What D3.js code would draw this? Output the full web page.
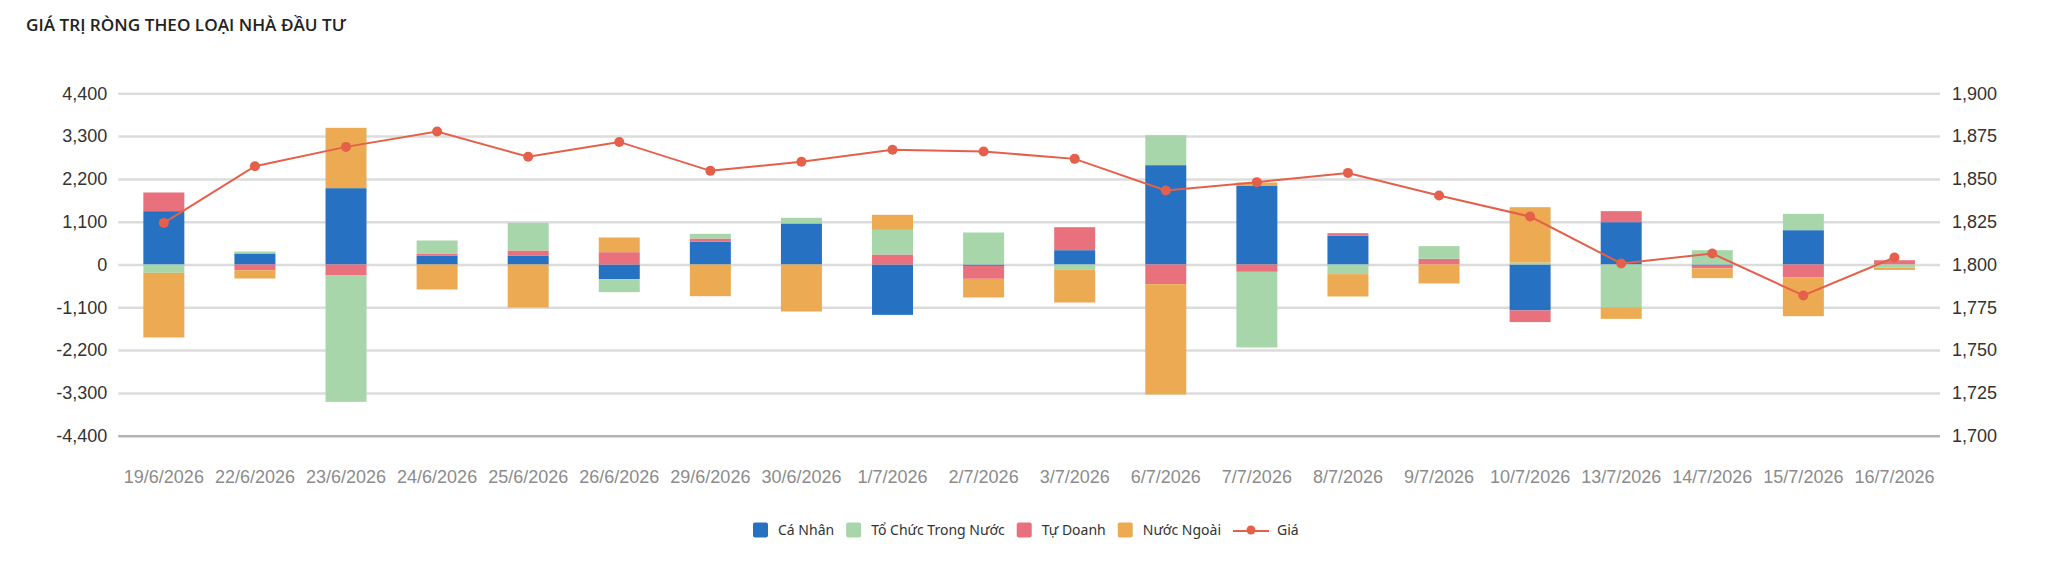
<!DOCTYPE html>
<html>
<head>
<meta charset="utf-8">
<script src="https://cdn.jsdelivr.net/npm/d3@7"></script>
<style>
  html, body { margin: 0; padding: 0; background: #ffffff; }
  svg { display: block; }
</style>
</head>
<body>
<script>
// ---- Data ----
const dates = ["19/6/2026","22/6/2026","23/6/2026","24/6/2026","25/6/2026","26/6/2026","29/6/2026","30/6/2026","1/7/2026","2/7/2026","3/7/2026","6/7/2026","7/7/2026","8/7/2026","9/7/2026","10/7/2026","13/7/2026","14/7/2026","15/7/2026","16/7/2026"];
const caNhan   = [1371, 283, 1962, 223, 223, -377, 583, 1054, -1294, -34, 368, 2553, 2030, 745, 0, -1180, 1088, -30, 882, 0];
const toChuc   = [-214, 51, -3247, 334, 711, -334, 120, 146, 634, 822, -137, 771, -1945, -248, 326, 50, -1097, 368, 420, -80];
const tuDoanh  = [480, -146, -283, 60, 137, 317, 86, 0, 257, -334, 591, -505, -188, 60, 146, -300, 283, -70, -326, 110];
const nuocNgoai= [-1662, -214, 1551, -643, -1105, 377, -814, -1208, 386, -480, -840, -2836, 77, -574, -488, 1422, -300, -250, -1002, -60];
const gia      = [1824.3, 1857.4, 1868.7, 1877.7, 1862.9, 1871.6, 1854.7, 1860.0, 1867.0, 1866.0, 1861.7, 1843.2, 1848.1, 1853.5, 1840.3, 1828.0, 1800.6, 1806.4, 1781.9, 1804.1];
const leftTicks  = [-4400, -3300, -2200, -1100, 0, 1100, 2200, 3300, 4400];
const rightTicks = [1700, 1725, 1750, 1775, 1800, 1825, 1850, 1875, 1900];
const seriesNames = ["Cá Nhân", "Tổ Chức Trong Nước", "Tự Doanh", "Nước Ngoài"];
const lineName = "Giá";
const title = "GIÁ TRỊ RÒNG THEO LOẠI NHÀ ĐẦU TƯ";

// ---- Styles ----
const colors = {
  "Cá Nhân": "#2671C2",
  "Tổ Chức Trong Nước": "#A8D6AB",
  "Tự Doanh": "#E8717D",
  "Nước Ngoài": "#ECAB53"
};
const lineColor = "#E5604A";
const W = 2048, H = 565;
const plot = { left: 118.3, right: 1940, top: 93.3, bottom: 435.7 };

// table built from arrays
const table = dates.map((d, i) => ({
  date: d,
  "Cá Nhân": caNhan[i],
  "Tổ Chức Trong Nước": toChuc[i],
  "Tự Doanh": tuDoanh[i],
  "Nước Ngoài": nuocNgoai[i],
  price: gia[i]
}));
// stacking order as drawn in the reference
const stackKeys = ["Cá Nhân", "Tự Doanh", "Tổ Chức Trong Nước", "Nước Ngoài"];
const stacked = d3.stack().keys(stackKeys).offset(d3.stackOffsetDiverging)(table);

const fmt = d3.formatLocale({decimal: ".", thousands: ",", grouping: [3], currency: ["", ""], minus: "-"}).format(",");

const svg = d3.select("body").append("svg").attr("width", W).attr("height", H);

const x = d3.scaleBand().domain(dates).range([plot.left, plot.right]).paddingInner(0.55).paddingOuter(0.275);
const yL = d3.scaleLinear().domain([-4400, 4400]).range([plot.bottom, plot.top]);
const yR = d3.scaleLinear().domain([1700, 1900]).range([plot.bottom, plot.top]);

// title
svg.append("text")
  .attr("x", 26).attr("y", 31)
  .attr("font-family", "'Open Sans', 'Noto Sans', sans-serif")
  .attr("font-size", 17).attr("font-weight", 600).attr("fill", "#222")
  .attr("textLength", 320).attr("lengthAdjust", "spacingAndGlyphs")
  .text(title);

// left axis with gridlines
const gL = svg.append("g").attr("transform", `translate(${plot.left},0)`)
  .call(d3.axisLeft(yL).tickValues(leftTicks).tickFormat(fmt)
    .tickSize(-(plot.right - plot.left)).tickPadding(11));
gL.select(".domain").remove();
gL.selectAll(".tick line")
  .attr("stroke", d => d === -4400 ? "#b3b3b3" : "#dcdcdc")
  .attr("stroke-width", 2.5);
gL.selectAll(".tick text")
  .attr("font-family", "'Liberation Sans', Arial, sans-serif")
  .attr("font-size", 18).attr("fill", "#333");

// right axis
const gR = svg.append("g").attr("transform", `translate(${plot.right},0)`)
  .call(d3.axisRight(yR).tickValues(rightTicks).tickFormat(fmt).tickSize(0).tickPadding(12));
gR.select(".domain").remove();
gR.selectAll(".tick text")
  .attr("font-family", "'Liberation Sans', Arial, sans-serif")
  .attr("font-size", 18).attr("fill", "#333");

// x axis
const gX = svg.append("g").attr("transform", `translate(0,${plot.bottom})`)
  .call(d3.axisBottom(x).tickSize(0).tickPadding(35));
gX.select(".domain").remove();
gX.selectAll(".tick text")
  .attr("font-family", "'Liberation Sans', Arial, sans-serif")
  .attr("font-size", 18).attr("fill", "#8c8c8c");

// bars
const gBars = svg.append("g");
stacked.forEach(layer => {
  gBars.append("g").attr("fill", colors[layer.key])
    .selectAll("rect").data(layer).join("rect")
    .attr("x", d => x(d.data.date))
    .attr("width", x.bandwidth())
    .attr("y", d => yL(Math.max(d[0], d[1])))
    .attr("height", d => Math.abs(yL(d[0]) - yL(d[1])));
});

// price line
const line = d3.line().x(d => x(d.date) + x.bandwidth() / 2).y(d => yR(d.price));
svg.append("path").datum(table)
  .attr("d", line).attr("fill", "none")
  .attr("stroke", lineColor).attr("stroke-width", 2);
svg.append("g").selectAll("circle").data(table).join("circle")
  .attr("cx", d => x(d.date) + x.bandwidth() / 2)
  .attr("cy", d => yR(d.price))
  .attr("r", 5).attr("fill", lineColor);

// legend
const legend = svg.append("g").attr("font-family", "'Noto Sans', 'Open Sans', sans-serif").attr("font-size", 14);
let lx = 753;
const ly = 530;
seriesNames.forEach(name => {
  legend.append("rect").attr("x", lx).attr("y", ly - 7.5).attr("width", 15).attr("height", 15)
    .attr("rx", 2).attr("fill", colors[name]);
  const t = legend.append("text").attr("x", lx + 25).attr("y", ly).attr("dy", "0.35em")
    .attr("fill", "#333").text(name);
  lx += 25 + t.node().getComputedTextLength() + 12;
});
legend.append("line").attr("x1", lx).attr("x2", lx + 36).attr("y1", ly + 1).attr("y2", ly + 1)
  .attr("stroke", lineColor).attr("stroke-width", 2);
legend.append("circle").attr("cx", lx + 18).attr("cy", ly).attr("r", 4.5).attr("fill", lineColor);
legend.append("text").attr("x", lx + 44).attr("y", ly).attr("dy", "0.35em").attr("fill", "#333").text(lineName);
</script>
</body>
</html>
